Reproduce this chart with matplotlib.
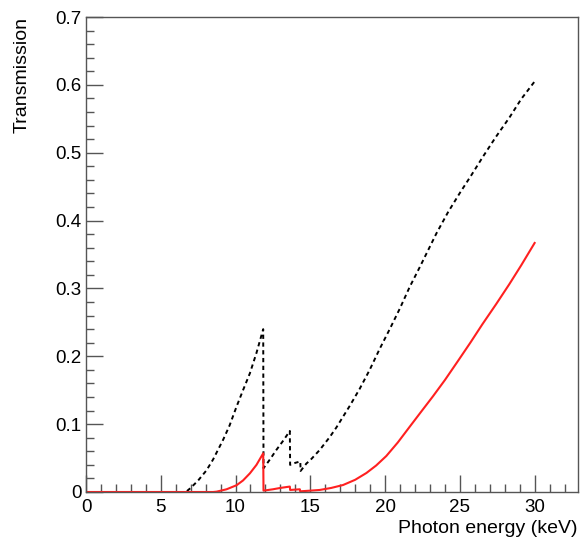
import matplotlib
matplotlib.use("Agg")
import matplotlib.pyplot as plt
from matplotlib.ticker import MultipleLocator

plt.rcParams['font.family'] = ['Liberation Sans', 'DejaVu Sans']

# dashed black curve (photon energy in keV, transmission)
energy_dash = [0, 6.5, 6.73, 7.0, 7.5, 8.06, 8.5, 9.17, 9.6, 10.07, 10.5, 10.96, 11.4, 11.85,
               11.87, 12.3, 12.73, 13.2, 13.63, 13.65, 14.0, 14.33, 14.35, 14.74, 15.0, 15.63,
               16.3, 16.74, 17.64, 18.3, 18.97, 19.64, 20.31, 21.0, 21.64, 22.31, 22.87, 23.43,
               24.2, 24.98, 25.8, 26.54, 27.4, 28.32, 29.1, 30]
trans_dash = [0, 0, 0.001, 0.006, 0.017, 0.032, 0.048, 0.077, 0.098, 0.126, 0.150, 0.175, 0.205, 0.240,
              0.035, 0.048, 0.062, 0.076, 0.090, 0.040, 0.043, 0.045, 0.031, 0.042, 0.047, 0.062,
              0.081, 0.095, 0.127, 0.152, 0.180, 0.211, 0.240, 0.271, 0.302, 0.331, 0.356, 0.381,
              0.412, 0.440, 0.468, 0.494, 0.523, 0.552, 0.579, 0.605]

# solid red curve
energy_red = [0, 8.5, 8.73, 9.4, 10.07, 10.5, 10.96, 11.4, 11.85, 11.87, 12.5, 13.0, 13.63, 13.65,
              14.3, 14.32, 15.0, 15.63, 16.4, 17.19, 18.0, 18.75, 19.4, 20.08, 20.85, 21.64, 22.4,
              23.2, 24.0, 24.87, 25.7, 26.5, 27.43, 28.3, 29.1, 30]
trans_red = [0, 0, 0.0005, 0.004, 0.010, 0.017, 0.0275, 0.040, 0.057, 0.002, 0.004, 0.006, 0.008, 0.003,
             0.004, 0.001, 0.002, 0.003, 0.006, 0.0103, 0.018, 0.028, 0.039, 0.053, 0.073, 0.096, 0.118,
             0.141, 0.165, 0.193, 0.220, 0.247, 0.277, 0.306, 0.334, 0.367]

fig = plt.figure(figsize=(5.82, 5.38), dpi=100)
ax = fig.add_axes([86 / 582, 46 / 538, 492 / 582, 475 / 538])

ax.plot(energy_dash, trans_dash, color='black', lw=1.4, dashes=(2.2, 1.8))
ax.plot(energy_red, trans_red, color='#ff2020', lw=1.5)

ax.set_xlim(0, 32.9)
ax.set_ylim(0, 0.7)
ax.xaxis.set_major_locator(MultipleLocator(5))
ax.xaxis.set_minor_locator(MultipleLocator(1))
ax.yaxis.set_major_locator(MultipleLocator(0.1))
ax.yaxis.set_minor_locator(MultipleLocator(0.02))
ax.xaxis.set_major_formatter(lambda v, p: f"{v:g}")
ax.yaxis.set_major_formatter(lambda v, p: f"{v:g}")

framecol = '#555555'
for s in ax.spines.values():
    s.set_color(framecol)
    s.set_linewidth(1.0)
ax.tick_params(which='both', direction='in', top=False, right=False, color=framecol, width=1.0,
               labelsize=13.5)
ax.tick_params(which='major', length=12)
ax.tick_params(which='minor', length=6)
ax.tick_params(axis='x', pad=5)
ax.tick_params(axis='y', pad=3)

ax.set_xlabel('Photon energy (keV)', fontsize=14, loc='right', labelpad=3)
ax.set_ylabel('Transmission', fontsize=14, loc='top', labelpad=18)

fig.savefig('out.png', dpi=100)
